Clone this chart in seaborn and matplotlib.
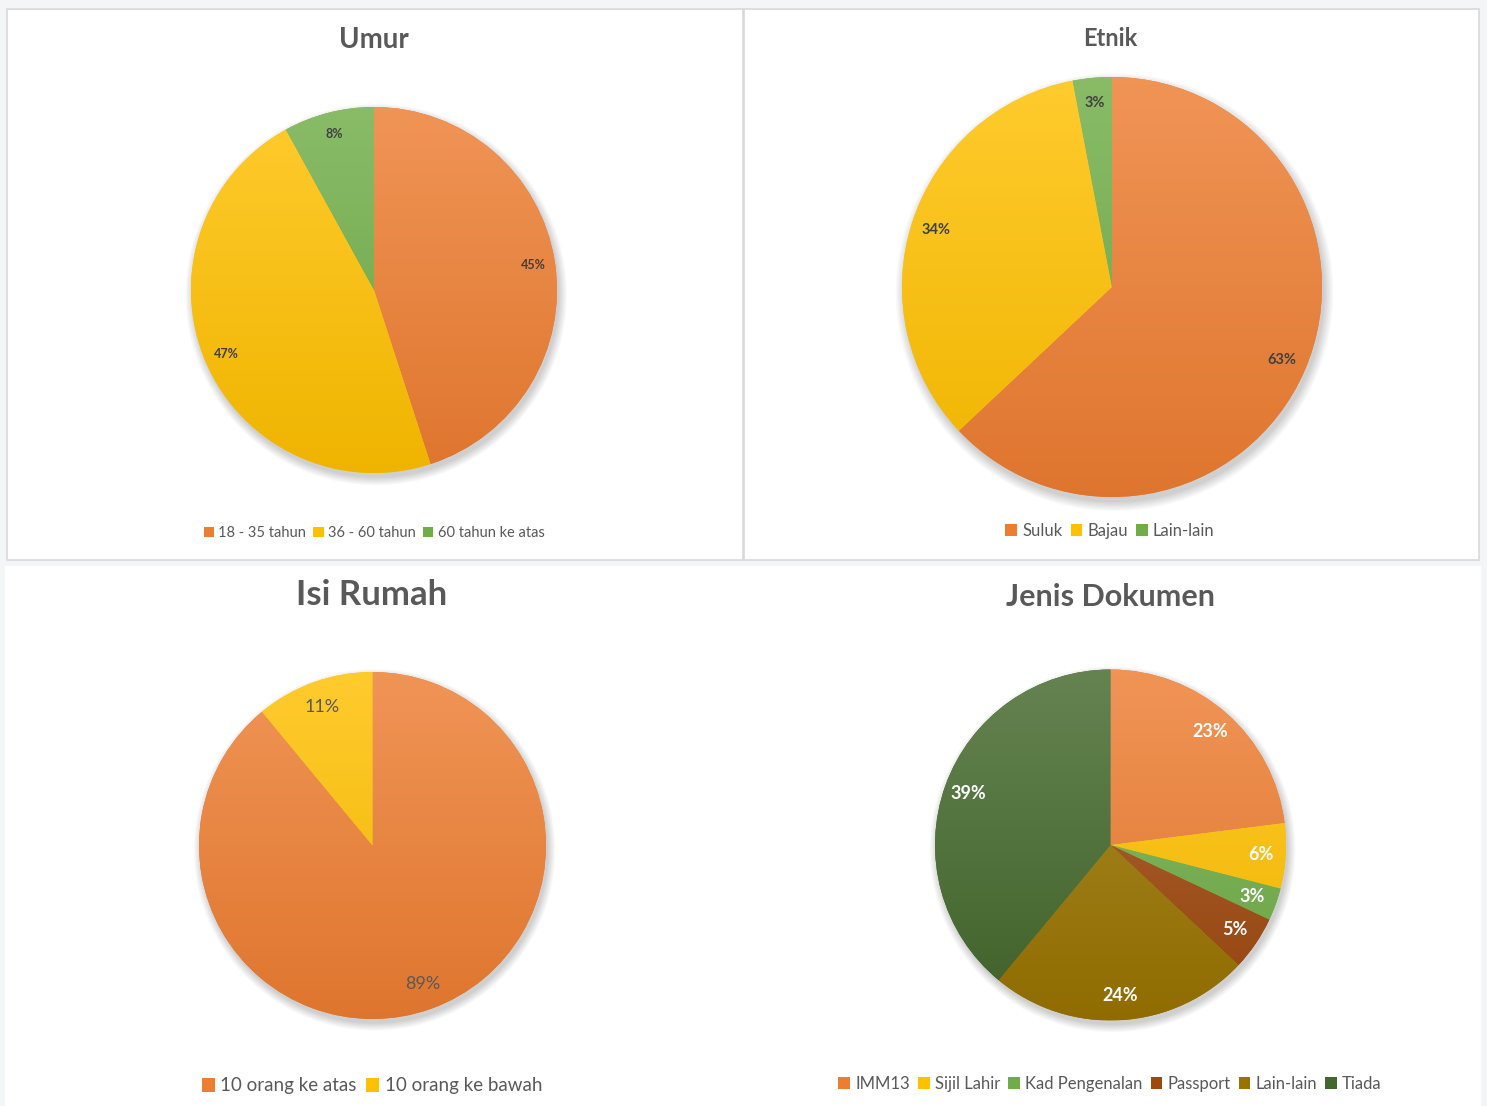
import numpy as np
import matplotlib
matplotlib.use('Agg')
import matplotlib.pyplot as plt
import seaborn as sns
from matplotlib.patches import Rectangle, Circle, Patch
from matplotlib.colors import LinearSegmentedColormap, to_rgb

# data
umur_labels = ['18 - 35 tahun', '36 - 60 tahun', '60 tahun ke atas']
umur_values = [45, 47, 8]
etnik_labels = ['Suluk', 'Bajau', 'Lain-lain']
etnik_values = [63, 34, 3]
rumah_labels = ['10 orang ke atas', '10 orang ke bawah']
rumah_values = [89, 11]
dokumen_labels = ['IMM13', 'Sijil Lahir', 'Kad Pengenalan', 'Passport', 'Lain-lain', 'Tiada']
dokumen_values = [23, 6, 3, 5, 24, 39]

ORANGE, YELLOW, GREEN = '#ED7D31', '#FFC000', '#70AD47'
DARKRED, OLIVE, DARKGREEN = '#9E480E', '#997300', '#43682B'

sns.set_theme(style='white')
plt.rcParams['font.family'] = ['Lato', 'DejaVu Sans']

W, H = 1487, 1106
fig = plt.figure(figsize=(W / 100, H / 100), dpi=100)
fig.patch.set_facecolor('#f4f5f7')


def px_rect(x0, y0, x1, y1, **kw):
    fig.add_artist(Rectangle((x0 / W, 1 - y1 / H), (x1 - x0) / W, (y1 - y0) / H,
                             transform=fig.transFigure, zorder=-5, **kw))


# panel backgrounds
px_rect(7, 9, 743, 560, facecolor='white', edgecolor='#d9d9d9', linewidth=1.2)
px_rect(744, 9, 1479, 560, facecolor='white', edgecolor='#d9d9d9', linewidth=1.2)
px_rect(5, 566, 1481, 1106, facecolor='white', edgecolor='none')


def shade(c, f):
    r = np.array(to_rgb(c))
    if f > 0:
        return tuple(r + (1 - r) * f)
    return tuple(r * (1 + f))


def draw_pie(cx, cy, R, values, colors, pctdist, txtcolor, txtsize, weight):
    pad = 1.08
    ax = fig.add_axes([(cx - R * pad) / W, 1 - (cy + R * pad) / H, 2 * R * pad / W, 2 * R * pad / H])
    ax.patch.set_alpha(0)
    # soft shadow
    for k in range(8):
        ax.add_patch(Circle((0.012, -0.025), 1 + 0.006 * k, color='black', alpha=0.025, zorder=0, lw=0))
    wedges, texts, autotexts = ax.pie(values, colors=colors, startangle=90, counterclock=False,
                                      autopct=lambda p: f'{p:.0f}%', pctdistance=pctdist,
                                      wedgeprops=dict(linewidth=0),
                                      textprops=dict(color=txtcolor, fontsize=txtsize, fontweight=weight))
    grad = np.linspace(0, 1, 256).reshape(-1, 1)
    for w, c in zip(wedges, colors):
        w.set_zorder(1)
        cmap = LinearSegmentedColormap.from_list('g', [shade(c, -0.06), shade(c, 0.18)])
        im = ax.imshow(grad, extent=[-1, 1, -1, 1], origin='lower', cmap=cmap, aspect='auto', zorder=2)
        im.set_clip_path(w)
    for t in autotexts:
        t.set_zorder(5)
    ax.set_xlim(-pad, pad)
    ax.set_ylim(-pad, pad)
    ax.axis('off')
    return ax


def add_legend(labels, colors, x, y, size):
    handles = [Patch(facecolor=c, edgecolor='none') for c in colors]
    fig.legend(handles, labels, loc='center', bbox_to_anchor=(x / W, 1 - y / H), ncol=len(labels),
               frameon=False, fontsize=size, handlelength=0.7, handleheight=0.7, handletextpad=0.3,
               columnspacing=0.5, labelcolor='#595959')


def add_title(text, x, y, size):
    fig.text(x / W, 1 - y / H, text, ha='center', va='center', fontsize=size,
             fontweight='bold', color='#595959')


# Umur
draw_pie(374, 290, 183, umur_values, [ORANGE, YELLOW, GREEN], 0.88, '#404040', 9, 'bold')
add_title('Umur', 374, 40, 20)
add_legend(umur_labels, [ORANGE, YELLOW, GREEN], 374, 533, 10.5)

# Etnik
draw_pie(1112, 287, 210, etnik_values, [ORANGE, YELLOW, GREEN], 0.88, '#404040', 10.5, 'bold')
add_title('Etnik', 1110, 38, 17)
add_legend(etnik_labels, [ORANGE, YELLOW, GREEN], 1110, 531, 12)

# Isi Rumah
draw_pie(372.5, 845.5, 173.5, rumah_values, [ORANGE, YELLOW], 0.85, '#595959', 13, 'normal')
add_title('Isi Rumah', 372, 595, 25)
add_legend(rumah_labels, [ORANGE, YELLOW], 372, 1086, 13.5)

# Jenis Dokumen
dok_colors = [ORANGE, YELLOW, GREEN, DARKRED, OLIVE, DARKGREEN]
draw_pie(1110.5, 845, 175.5, dokumen_values, dok_colors, 0.86, 'white', 13, 'bold')
add_title('Jenis Dokumen', 1110, 597, 22)
add_legend(dokumen_labels, dok_colors, 1110, 1084, 12)

fig.savefig('out.png', dpi=100, facecolor=fig.get_facecolor())
